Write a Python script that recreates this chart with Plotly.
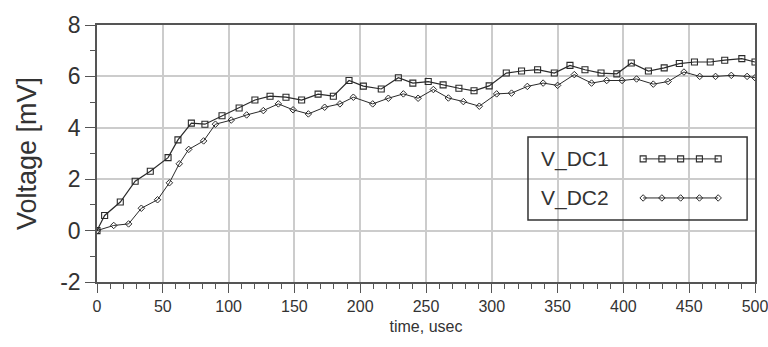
import numpy as np
import plotly.graph_objects as go

# ---------------- data ----------------
t_dc1 = [0, 5.8, 17.7, 29, 40.5, 54, 61.5, 71.7, 82, 95, 108, 120, 131.5, 143.6,
         155.5, 168, 179.6, 191.5, 202.4, 216, 229, 240, 251.7, 263, 275, 286.5,
         298, 311, 322.6, 334.8, 347.5, 359.4, 370.8, 383, 395, 406, 419, 431,
         442.5, 454, 466, 477, 490, 500]
v_dc1 = [0, 0.59, 1.11, 1.92, 2.31, 2.84, 3.53, 4.18, 4.14, 4.47, 4.77, 5.08,
         5.23, 5.19, 5.08, 5.31, 5.23, 5.84, 5.62, 5.51, 5.95, 5.74, 5.8, 5.67,
         5.54, 5.44, 5.63, 6.13, 6.21, 6.26, 6.13, 6.43, 6.26, 6.13, 6.1, 6.52,
         6.21, 6.33, 6.5, 6.56, 6.56, 6.63, 6.69, 6.56]

t_dc2 = [0, 12.7, 24, 33.7, 46, 55, 62.5, 69.7, 81, 90, 102, 113.7, 126.4,
         137.8, 149, 160.6, 173, 184.6, 194.8, 209.5, 221.4, 232.8, 244, 255.6,
         267, 278.4, 290.5, 303.7, 315, 327, 339, 350, 362.7, 375.8, 387.3, 399,
         410, 422.7, 434, 446, 458, 470, 482, 494, 500]
v_dc2 = [0, 0.2, 0.26, 0.87, 1.2, 1.86, 2.6, 3.16, 3.49, 4.14, 4.3, 4.5, 4.67,
         4.93, 4.7, 4.54, 4.8, 4.93, 5.19, 4.93, 5.15, 5.32, 5.15, 5.49, 5.16,
         5.02, 4.84, 5.32, 5.35, 5.61, 5.74, 5.65, 6.07, 5.74, 5.84, 5.84, 5.9,
         5.7, 5.8, 6.17, 6.0, 6.0, 6.04, 6.0, 5.95]

series_names = ["V_DC1", "V_DC2"]
x_ticks = [0, 50, 100, 150, 200, 250, 300, 350, 400, 450, 500]
y_ticks = [-2, 0, 2, 4, 6, 8]
y_tick_text = ["-2", "0", "2", "4", "6", "8"]

# ---------------- styles ----------------
LINE = "#2a2a2a"
TXT = "#333333"
GRID = "#cccccc"
AX = "#555555"
FONT = "Liberation Sans, Arial, sans-serif"

sq_marker = dict(symbol="square-open", size=6, color=LINE, line=dict(width=1.1, color=LINE))
di_marker = dict(symbol="diamond-open", size=5, color=LINE, line=dict(width=1.0, color=LINE))

fig = go.Figure()
fig.add_trace(go.Scatter(x=t_dc1, y=v_dc1, mode="lines+markers", name=series_names[0],
                         line=dict(color=LINE, width=1.2), marker=sq_marker,
                         showlegend=False))
fig.add_trace(go.Scatter(x=t_dc2, y=v_dc2, mode="lines+markers", name=series_names[1],
                         line=dict(color=LINE, width=1.0), marker=di_marker,
                         showlegend=False))

# ---------------- custom legend (text left, sample right) ----------------
box = dict(x0=0.655, x1=0.988, y0=0.241, y1=0.564)
rows_y = [0.479, 0.327]
sx = np.linspace(0.830, 0.944, 5)
for name, yy, mk in zip(series_names, rows_y, [sq_marker, di_marker]):
    fig.add_trace(go.Scatter(x=sx, y=[yy] * len(sx), mode="lines+markers",
                             xaxis="x2", yaxis="y2", showlegend=False,
                             hoverinfo="skip",
                             line=dict(color=LINE, width=1.0), marker=mk))
    fig.add_annotation(x=0.672, y=yy, xref="x domain", yref="y domain",
                       text=name, showarrow=False, xanchor="left", yanchor="middle",
                       font=dict(size=21, color=TXT, family=FONT))

fig.add_shape(type="rect", xref="x domain", yref="y domain",
              x0=box["x0"], x1=box["x1"], y0=box["y0"], y1=box["y1"],
              line=dict(color="#333333", width=1.5), fillcolor="rgba(0,0,0,0)",
              layer="above")

fig.update_layout(
    width=768, height=347,
    margin=dict(l=97, r=13, t=25, b=65, autoexpand=False),
    paper_bgcolor="white", plot_bgcolor="white",
    font=dict(family=FONT, color=TXT),
    xaxis=dict(range=[0, 500], tickvals=x_ticks, ticks="outside", ticklen=9,
               tickwidth=1.3, tickcolor=AX, showline=True, linecolor=AX,
               linewidth=1.5, mirror=True, showgrid=True, gridcolor=GRID,
               gridwidth=1.5, zeroline=False, automargin=False,
               ticklabeloverflow="allow",
               tickfont=dict(size=16, color=TXT, family=FONT),
               title=dict(text="time, usec", font=dict(size=16, color=TXT, family=FONT),
                          standoff=7),
               minor=dict(dtick=10, ticks="outside", ticklen=5, tickwidth=1.2,
                          tickcolor=AX, showgrid=False)),
    yaxis=dict(range=[-2, 8], tickvals=y_ticks, ticktext=y_tick_text,
               ticks="outside", ticklen=10,
               tickwidth=1.3, tickcolor=AX, showline=True, linecolor=AX,
               linewidth=1.5, mirror=True, showgrid=True, gridcolor=GRID,
               gridwidth=1.5, zeroline=False, automargin=False,
               tickfont=dict(size=23, color=TXT, family=FONT),
               title=dict(text="Voltage [mV]", font=dict(size=27, color=TXT, family=FONT),
                          standoff=16),
               minor=dict(dtick=1, ticks="outside", ticklen=5, tickwidth=1.2,
                          tickcolor=AX, showgrid=False)),
    xaxis2=dict(overlaying="x", range=[0, 1], visible=False, fixedrange=True),
    yaxis2=dict(overlaying="y", range=[0, 1], visible=False, fixedrange=True),
    showlegend=False,
)

fig.write_html("out.html", config={"displayModeBar": False},
               post_script="document.body.style.margin='0px';document.body.style.overflow='hidden';")
